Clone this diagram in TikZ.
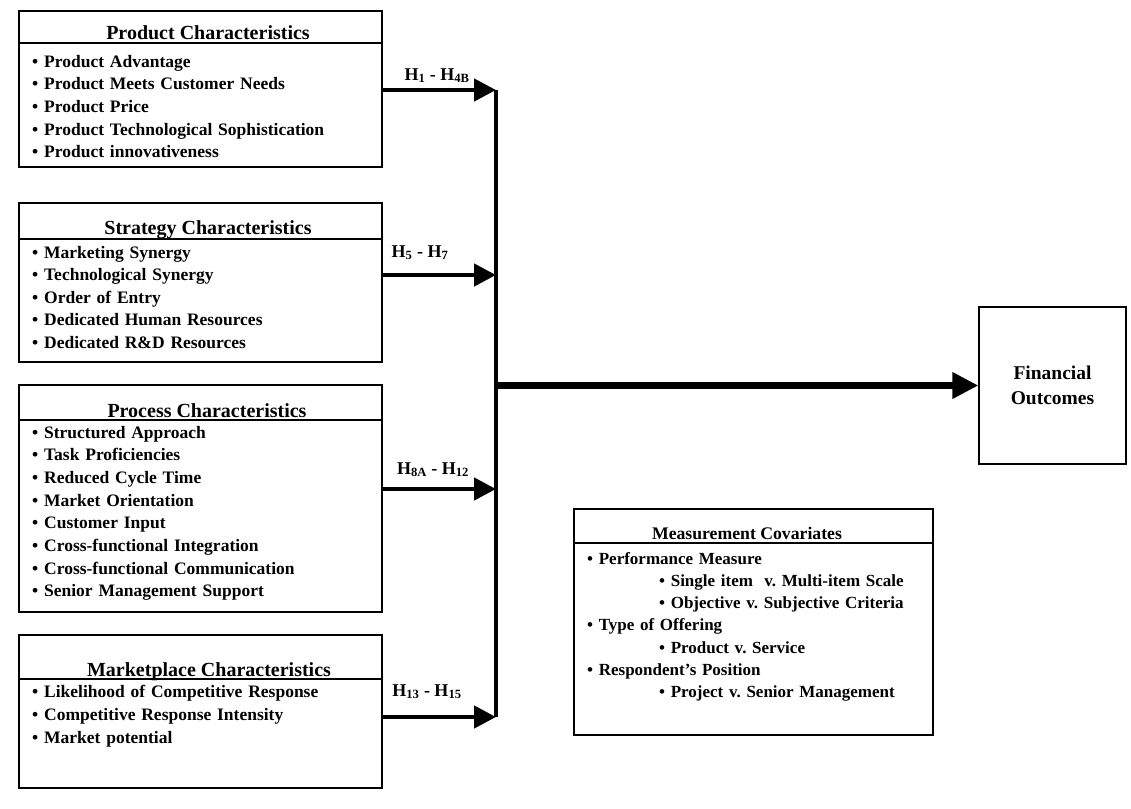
\documentclass[tikz,border=0pt]{standalone}
\usepackage{fontspec}
\setmainfont{Liberation Serif}
\usepackage{tikz}
\usetikzlibrary{%
  arrows.meta,% Triangle tips
  positioning%
}
\frenchspacing

\begin{document}
\begin{tikzpicture}[x=1pt, y=-1pt]
  \useasboundingbox (0,0) rectangle (1131,808);
  \tikzset{
    catbox/.style   = {draw, line width=1.2pt, rectangle, inner sep=0pt},
    cattitle/.style = {anchor=base, inner sep=0pt, font=\fontsize{20}{22}\selectfont\bfseries},
    catitems/.style = {anchor=base west, inner sep=0pt, align=left, text width=340pt},
    hyplabel/.style = {anchor=base, inner sep=0pt, font=\fontsize{18}{20}\selectfont\bfseries}
  }

  % the boxes
  \node[catbox, minimum width=363pt, minimum height=156pt] (prod)  at (200.5, 89.0) {};
  \node[catbox, minimum width=363pt, minimum height=159pt] (strat) at (200.5,282.5) {};
  \node[catbox, minimum width=363pt, minimum height=227pt] (proc)  at (200.5,498.5) {};
  \node[catbox, minimum width=363pt, minimum height=153pt] (mkt)   at (200.5,711.5) {};
  \node[catbox, minimum width=359pt, minimum height=226pt] (meas)  at (753.5,622.0) {};
  \node[catbox, minimum width=147pt, minimum height=157pt, align=center,
        font=\fontsize{19.5}{25}\selectfont\bfseries] (fin) at (1052.5,385.5) {Financial\\Outcomes};

  % title rules
  \draw[line width=1.2pt] (prod.west  |- 0, 43) -- (prod.east  |- 0, 43);
  \draw[line width=1.2pt] (strat.west |- 0,239) -- (strat.east |- 0,239);
  \draw[line width=1.2pt] (proc.west  |- 0,420) -- (proc.east  |- 0,420);
  \draw[line width=1.2pt] (mkt.west   |- 0,679) -- (mkt.east   |- 0,679);
  \draw[line width=1.2pt] (meas.west  |- 0,543) -- (meas.east  |- 0,543);

  % titles
  \node[cattitle] (prod-t)  at (208, 40) {Product Characteristics};
  \node[cattitle] (strat-t) at (208,234) {Strategy Characteristics};
  \node[cattitle] (proc-t)  at (207,417) {Process Characteristics};
  \node[cattitle] (mkt-t)   at (209,676) {Marketplace Characteristics};
  \node[cattitle, font=\fontsize{17.7}{20}\selectfont\bfseries] (meas-t) at (747,539) {Measurement Covariates};

  % item lists
  \node[catitems, font=\fontsize{17.5}{22.7}\selectfont\bfseries] (prod-i) at (32,67) {%
    \textbullet\ Product Advantage\\
    \textbullet\ Product Meets Customer Needs\\
    \textbullet\ Product Price\\
    \textbullet\ Product Technological Sophistication\\
    \textbullet\ Product innovativeness};
  \node[catitems, font=\fontsize{17.5}{22.5}\selectfont\bfseries] (strat-i) at (32,258) {%
    \textbullet\ Marketing Synergy\\
    \textbullet\ Technological Synergy\\
    \textbullet\ Order of Entry\\
    \textbullet\ Dedicated Human Resources\\
    \textbullet\ Dedicated R\&D Resources};
  \node[catitems, font=\fontsize{17.5}{22.7}\selectfont\bfseries] (proc-i) at (32,438) {%
    \textbullet\ Structured Approach\\
    \textbullet\ Task Proficiencies\\
    \textbullet\ Reduced Cycle Time\\
    \textbullet\ Market Orientation\\
    \textbullet\ Customer Input\\
    \textbullet\ Cross-functional Integration\\
    \textbullet\ Cross-functional Communication\\
    \textbullet\ Senior Management Support};
  \node[catitems, font=\fontsize{17.5}{23}\selectfont\bfseries] (mkt-i) at (32,697) {%
    \textbullet\ Likelihood of Competitive Response\\
    \textbullet\ Competitive Response Intensity\\
    \textbullet\ Market potential};
  \node[catitems, font=\fontsize{17}{22.3}\selectfont\bfseries] (meas-i) at (587,564) {%
    \textbullet\ Performance Measure\\
    \hspace*{72pt}\textbullet\ Single item\ \ v. Multi-item Scale\\
    \hspace*{72pt}\textbullet\ Objective v. Subjective Criteria\\
    \textbullet\ Type of Offering\\
    \hspace*{72pt}\textbullet\ Product v. Service\\
    \textbullet\ Respondent's Position\\
    \hspace*{72pt}\textbullet\ Project v. Senior Management};

  % joints on the bus
  \coordinate (j1) at (496, 90);
  \coordinate (j2) at (496,275);
  \coordinate (j3) at (496,489);
  \coordinate (j4) at (496,717);

  % hypotheses
  \tikzset{EdgeStyle/.style = {line width=4.5pt, -{Triangle[length=22pt,width=22pt]}}}
  \draw[EdgeStyle] (prod.east  |- j1) -- (j1);
  \draw[EdgeStyle] (strat.east |- j2) -- (j2);
  \draw[EdgeStyle] (proc.east  |- j3) -- (j3);
  \draw[EdgeStyle] (mkt.east   |- j4) -- (j4);
  \node[hyplabel] (h1)  at (437, 80) {H\textsubscript{1} - H\textsubscript{4B}};
  \node[hyplabel] (h5)  at (420,257) {H\textsubscript{5} - H\textsubscript{7}};
  \node[hyplabel] (h8)  at (433,474) {H\textsubscript{8A} - H\textsubscript{12}};
  \node[hyplabel] (h13) at (427,696) {H\textsubscript{13} - H\textsubscript{15}};

  % bus and main arrow
  \draw[line width=4.5pt] (j1) -- (j4);
  \tikzset{EdgeStyle/.style = {line width=6.5pt, -{Triangle[length=26pt,width=25pt]}}}
  \draw[EdgeStyle] (j1 |- fin.west) -- (fin.west);
\end{tikzpicture}
\end{document}
